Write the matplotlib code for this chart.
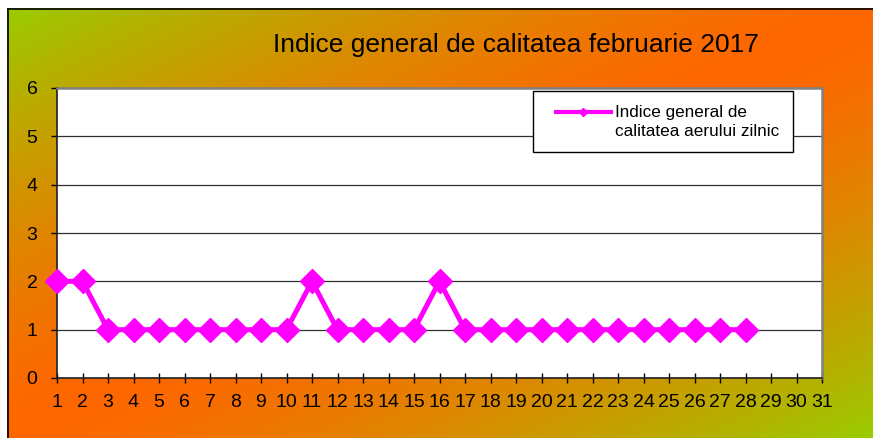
import matplotlib
matplotlib.use("Agg")
import matplotlib.pyplot as plt
from matplotlib.lines import Line2D
from matplotlib.legend_handler import HandlerLine2D
import numpy as np

plt.rcParams['font.family'] = ['Liberation Sans', 'DejaVu Sans']

# data
zile = list(range(1, 29))
indice = [2, 2, 1, 1, 1, 1, 1, 1, 1, 1, 2, 1, 1, 1, 1, 2, 1, 1, 1, 1, 1, 1, 1, 1, 1, 1, 1, 1]
zile_ticks = list(range(1, 32))
y_ticks = [0, 1, 2, 3, 4, 5, 6]
titlu = 'Indice general de calitatea februarie 2017'
eticheta = 'Indice general de\ncalitatea aerului zilnic'


class HandlerSus(HandlerLine2D):
    # handle aligned with the first line of the label, like Excel
    def create_artists(self, legend, orig_handle, xdescent, ydescent, width, height, fontsize, trans):
        arts = super().create_artists(legend, orig_handle, xdescent, ydescent,
                                      width, height, fontsize, trans)
        for a in arts:
            a.set_ydata(np.asarray(a.get_ydata(), dtype=float) + 0.55 * fontsize)
        return arts


W, H = 873, 438
fig = plt.figure(figsize=(W / 100, H / 100), dpi=100)

# gradient background (green corners top-left / bottom-right, orange on the anti-diagonal)
verde = np.array([153, 204, 0]) / 255
portocaliu = np.array([255, 102, 0]) / 255
x0, y0 = 7, 8
u = (np.arange(W) - x0) / (W - x0)
v = (np.arange(H) - y0) / (H - y0)
t = np.abs(u[None, :] + v[:, None] - 1)
t = np.clip(t, 0, 1) ** 1.4
t = t[..., None]
img = portocaliu * (1 - t) + verde * t
img[:y0, :, :] = 1
img[:, :x0, :] = 1
fig.figimage(img, xo=0, yo=0, origin='upper', zorder=-5)
fig.add_artist(Line2D([(x0 + 0.5) / W, (x0 + 0.5) / W], [0, 1 - (y0 + 0.5) / H],
                      color='black', lw=1.2, transform=fig.transFigure))
fig.add_artist(Line2D([(x0 + 0.5) / W, 1], [1 - (y0 + 0.5) / H, 1 - (y0 + 0.5) / H],
                      color='black', lw=1.2, transform=fig.transFigure))

fig.text(516 / W, 1 - 45 / H, titlu, ha='center', va='center', fontsize=19)

ax = fig.add_axes([57 / W, (H - 378) / H, (822 - 57) / W, (378 - 88) / H], zorder=2)
ax.set_facecolor('white')
ax.set_xlim(1, 31)
ax.set_ylim(0, 6)
ax.set_xticks(zile_ticks)
ax.set_yticks(y_ticks)
for yv in y_ticks[1:-1]:
    ax.axhline(yv, color='#303030', lw=0.9, zorder=1)

for s in ['top', 'right']:
    ax.spines[s].set_color('#808080')
    ax.spines[s].set_linewidth(1.8)
for s in ['left', 'bottom']:
    ax.spines[s].set_color('#202020')
    ax.spines[s].set_linewidth(1.2)

ax.tick_params(axis='x', direction='inout', length=7.5, width=1, pad=8, labelsize=14)
ax.tick_params(axis='y', direction='out', length=4.5, width=1, pad=9.5, labelsize=14)

ax.plot(zile, indice, color='#FF00FF', lw=3.6, marker='D', markersize=12,
        clip_on=False, zorder=3)

proxy = Line2D([], [], color='#FF00FF', lw=3, marker='D', markersize=4.5)
leg = ax.legend([proxy], [eticheta], loc='upper left',
                bbox_to_anchor=(533 / W, 1 - 91 / H), bbox_transform=fig.transFigure,
                borderaxespad=0, fontsize=12.3, fancybox=False, framealpha=1,
                edgecolor='black', handlelength=3.75, handletextpad=0.23,
                borderpad=0.8, handler_map={proxy: HandlerSus(xpad=0.54)})
leg.get_frame().set_linewidth(1)
for txt in leg.get_texts():
    txt.set_linespacing(1.34)

fig.savefig('out.png', dpi=100)
